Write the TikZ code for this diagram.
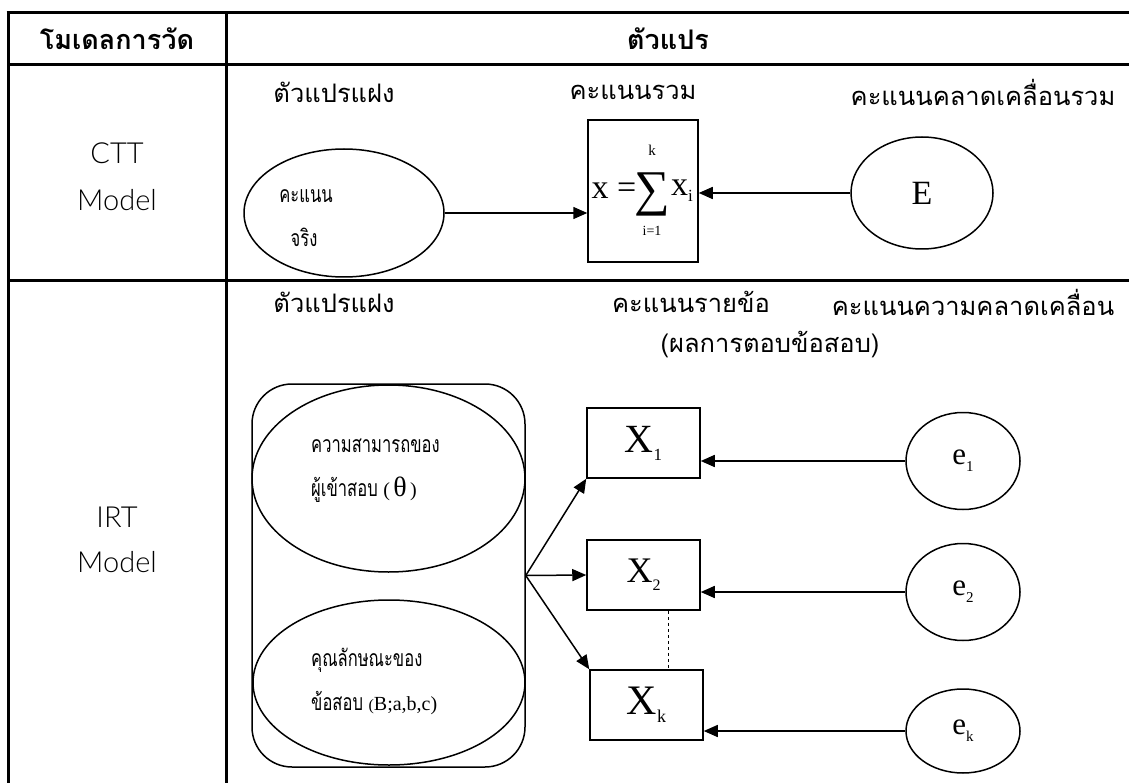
\documentclass[tikz,border=0pt]{standalone}
\usepackage{fontspec}
\setmainfont{Liberation Serif}
\newfontfamily\thai[Script=Thai]{Loma}
\newfontfamily\thain[Script=Thai,FakeStretch=0.72]{Loma}
\IfFontExistsTF{Lato Light}{\newfontfamily\lsans{Lato Light}}{\newfontfamily\lsans{Lato}}
\usetikzlibrary{arrows.meta,shapes.geometric}
\newcommand{\fsz}[1]{\fontsize{#1}{#1}\selectfont}
\begin{document}
\begin{tikzpicture}[x=1pt,y=-1pt,
  grid/.style={line width=3pt},
  lat/.style={draw, ellipse, line width=1.5pt, inner sep=0pt},
  obs/.style={draw, rectangle, line width=1.5pt, inner sep=0pt},
  grp/.style={draw, rectangle, rounded corners=40pt, line width=1.5pt, inner sep=0pt},
  arr/.style={-{Triangle[length=14pt,width=12pt]}, line width=1.5pt},
  hdr/.style={font=\thai\bfseries\fsz{27}, inner sep=0pt},
  lbl/.style={font=\thai\fsz{25.5}, inner sep=0pt},
  mdl/.style={font=\lsans\fsz{29}, inner sep=0pt},
  etx/.style={font=\thain\fsz{23}, inner sep=0pt},
  txt/.style={inner sep=0pt}
]
\useasboundingbox (0,0) rectangle (1129,783);
\fill[white] (0,0) rectangle (1129,783);
% table rules
\draw[grid] (6.5,13) -- (1129,13);
\draw[grid] (8,65) -- (1129,65);
\draw[grid] (8,281) -- (1129,281);
\draw[grid] (8,11.5) -- (8,783);
\draw[grid] (226,11.5) -- (226,783);
% header
\node[hdr] (h1) at (117,39) {โมเดลการวัด};
\node[hdr] (h2) at (668,39) {ตัวแปร};
% row labels
\node[mdl] (ctt) at (117,153) {CTT};
\node[mdl] (cttm) at (117,200) {Model};
\node[mdl] (irt) at (117,517) {IRT};
\node[mdl] (irtm) at (117,562) {Model};
% CTT row
\node[lbl] (c1) at (334,92) {ตัวแปรแฝง};
\node[lbl] (c2) at (633,92) {คะแนนรวม};
\node[lbl] (c3) at (983,92) {คะแนนคลาดเคลื่อนรวม};
\node[lat, minimum width=200pt, minimum height=128pt] (true) at (344,213) {};
\node[etx] (tt1) at (306,196) {คะแนน};
\node[etx] (tt2) at (304,237) {จริง};
\node[obs, minimum width=110pt, minimum height=142pt] (sum) at (643,191) {};
\node[txt, font=\fsz{34}] (fx) at (614,191) {x =};
\node[txt, font=\fsz{50}] (sig) at (652,194) {∑};
\node[txt, font=\fsz{15}] (sk) at (652,150) {k};
\node[txt, font=\fsz{14}] (si) at (652,231) {i=1};
\node[txt, font=\fsz{34}, anchor=west] (fxi) at (671,191) {x\raisebox{-6pt}{\fsz{17}i}};
\node[lat, minimum width=142pt, minimum height=112pt] (E) at (922,193) {\fsz{34}E};
\draw[arr] (true.east) -- (true.east -| sum.west);
\draw[arr] (E.west) -- (E.west -| sum.east);
% IRT row
\node[lbl] (r1) at (334,302) {ตัวแปรแฝง};
\node[lbl] (r2) at (691,302) {คะแนนรายข้อ};
\node[lbl] (r3) at (973,302) {คะแนนความคลาดเคลื่อน};
\node[lbl] (r4) at (770,345) {(ผลการตอบข้อสอบ)};
\node[grp, minimum width=273pt, minimum height=383pt] (grpbox) at (388.5,575.5) {};
\node[lat, minimum width=273pt, minimum height=187pt] (theta) at (388.5,478.5) {};
\node[lat, minimum width=272pt, minimum height=165pt] (item) at (389,682.5) {};
\node[etx, anchor=west] (th1) at (311,446) {ความสามารถของ};
\node[etx, anchor=west] (th2) at (311,490) {ผู้เข้าสอบ \rmfamily\fsz{20}(\,{\fsz{28}θ}\,)};
\node[etx, anchor=west] (it1) at (311,660) {คุณลักษณะของ};
\node[etx, anchor=west] (it2) at (311,703) {ข้อสอบ \rmfamily\fsz{16}(\fsz{20}B;a,b,c)};
\coordinate (fan) at (grpbox.east);
\node[obs, minimum width=113pt, minimum height=70pt] (X1) at (643.5,443) {\fsz{40}X\raisebox{-8pt}{\fsz{17}1}};
\node[obs, minimum width=113pt, minimum height=70pt] (X2) at (643.5,575) {\fsz{36}X\raisebox{-8pt}{\fsz{16}2}};
\node[obs, minimum width=113pt, minimum height=70pt] (Xk) at (646.5,705) {\fsz{42}X\raisebox{-8pt}{\fsz{18}k}};
\draw[arr] (fan) -- (X1.south west);
\draw[arr] (fan) -- (X2.west);
\draw[arr] (fan) -- (Xk.north west);
\coordinate (dtop) at ([xshift=25pt]X2.south);
\draw[dashed, line width=1.3pt] (dtop) -- (dtop |- Xk.north);
\node[lat, minimum width=114pt, minimum height=97pt] (e1) at (963,461) {\fsz{31}e\raisebox{-7pt}{\fsz{15}1}};
\node[lat, minimum width=114pt, minimum height=97pt] (e2) at (963,592) {\fsz{31}e\raisebox{-7pt}{\fsz{15}2}};
\node[lat, minimum width=114pt, minimum height=84pt] (ek) at (963,731) {\fsz{31}e\raisebox{-7pt}{\fsz{15}k}};
\draw[arr] (e1.west) -- (e1.west -| X1.east);
\draw[arr] (e2.west) -- (e2.west -| X2.east);
\draw[arr] (ek.west) -- (ek.west -| Xk.east);
\end{tikzpicture}
\end{document}
